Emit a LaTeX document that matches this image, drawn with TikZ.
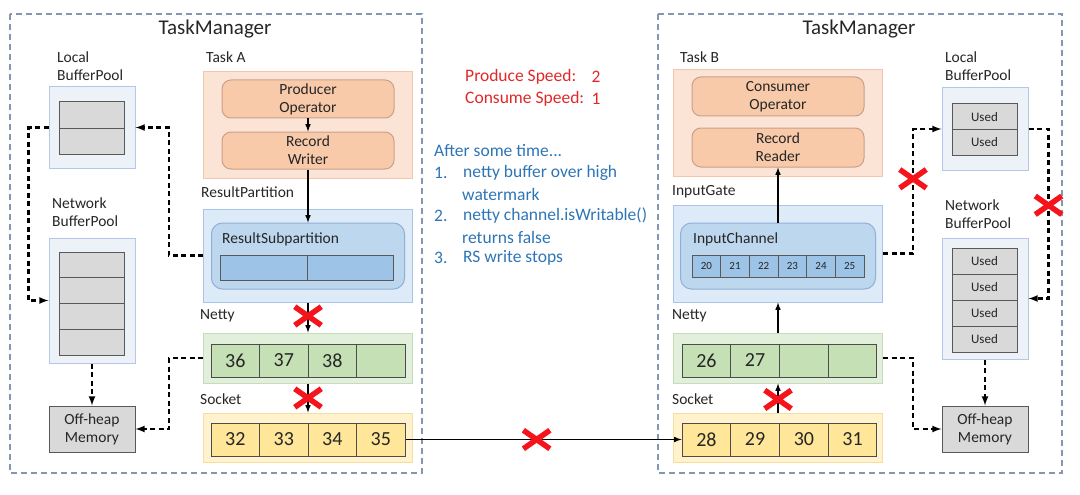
\documentclass[tikz,border=0pt]{standalone}
\usepackage{fontspec}
\setmainfont{Carlito}
\usepackage{tikz}
\usetikzlibrary{arrows,shapes.misc}
\usepackage{xcolor}

\definecolor{tmgray}{HTML}{8497B0}
\definecolor{txt}{HTML}{262626}
\definecolor{poolfill}{HTML}{EDF1F8}
\definecolor{pooldraw}{HTML}{B4C7E7}
\definecolor{grayfill}{HTML}{D9D9D9}
\definecolor{graydraw}{HTML}{595959}
\definecolor{taskfill}{HTML}{FBE4D6}
\definecolor{taskdraw}{HTML}{F2C6AA}
\definecolor{opfill}{HTML}{F8CAAA}
\definecolor{opdraw}{HTML}{C9A08A}
\definecolor{rpfill}{HTML}{DDEAF7}
\definecolor{rpdraw}{HTML}{A9C4E4}
\definecolor{subfill}{HTML}{BDD7EE}
\definecolor{subdraw}{HTML}{8FB0D6}
\definecolor{bluecell}{HTML}{9DC3E6}
\definecolor{nettyfill}{HTML}{E2EFDA}
\definecolor{nettydraw}{HTML}{C5DDB8}
\definecolor{greencell}{HTML}{C5E0B4}
\definecolor{sockfill}{HTML}{FFF2CC}
\definecolor{sockdraw}{HTML}{F5DFA0}
\definecolor{yellowcell}{HTML}{FFE699}
\definecolor{redtxt}{HTML}{E02828}
\definecolor{bluetxt}{HTML}{2E75B6}
\definecolor{crossred}{HTML}{F5141C}

\begin{document}
\begin{tikzpicture}[x=1pt,y=-1pt,
  lbl/.style={anchor=west,inner sep=0,text=txt,font=\fontsize{15.5}{18}\selectfont,align=left},
  title/.style={inner sep=0,text=txt,font=\fontsize{21}{24}\selectfont},
  tm/.style={draw=tmgray,line width=1.5,dash pattern=on 6pt off 4pt},
  pool/.style={draw=pooldraw,fill=poolfill,line width=1,minimum width=86,inner sep=0},
  graycell/.style={draw=graydraw,fill=grayfill,line width=1,minimum width=65,inner sep=0,text=txt,font=\fontsize{13}{15}\selectfont},
  offheap/.style={draw=graydraw,fill=grayfill,line width=1,minimum width=86,minimum height=46,inner sep=0,text=txt,align=center,font=\fontsize{15.5}{18}\selectfont},
  task/.style={draw=taskdraw,fill=taskfill,line width=1,minimum width=209,inner sep=0},
  op/.style={draw=opdraw,fill=opfill,line width=1,rounded corners=9,minimum width=172,inner sep=0,text=txt,align=center,font=\fontsize{15.5}{18}\selectfont},
  part/.style={draw=rpdraw,fill=rpfill,line width=1,minimum width=209,inner sep=0},
  sub/.style={draw=subdraw,fill=subfill,line width=1,rounded corners=11,minimum height=66,inner sep=0},
  bcell/.style={draw=graydraw,fill=bluecell,line width=1,inner sep=0,text=txt},
  netty/.style={draw=nettydraw,fill=nettyfill,line width=1,minimum width=209,minimum height=50,inner sep=0},
  gcell/.style={draw=black!70,fill=greencell,line width=1,minimum height=33,inner sep=0,text=txt,font=\fontsize{20}{22}\selectfont},
  sock/.style={draw=sockdraw,fill=sockfill,line width=1,minimum width=209,minimum height=49,inner sep=0},
  ycell/.style={draw=black!70,fill=yellowcell,line width=1,minimum height=33,inner sep=0,text=txt,font=\fontsize{20}{22}\selectfont},
  arr/.style={draw=black,line width=1.5,-latex},
  dashline/.style={draw=black,line width=2.1,dash pattern=on 5pt off 3.5pt,-latex},
  redx/.style={cross out,solid,draw=crossred,line width=5.5,minimum width=21,minimum height=13,inner sep=0},
  red/.style={anchor=west,inner sep=0,text=redtxt,font=\fontsize{17.5}{20}\selectfont},
  blue/.style={anchor=west,inner sep=0,text=bluetxt,font=\fontsize{17.5}{20}\selectfont}]

\useasboundingbox (0,0) rectangle (1080,495);

% left task manager
\draw[tm] (10,14) rectangle (422,473);
\node[title] (tmAt) at (215,29) {TaskManager};

\node[lbl] (lbpAl) at (57,66) {Local\\BufferPool};
\node[pool,minimum height=81] (lbpA) at (92,127.5) {};
\node[graycell,minimum height=26] (la1) at (91.5,115) {};
\node[graycell,minimum height=26] (la2) at (91.5,141) {};

\node[lbl] (nbpAl) at (52,212) {Network\\BufferPool};
\node[pool,minimum height=125] (nbpA) at (92,300.5) {};
\node[graycell,minimum height=25.75] (na1) at (91.5,265) {};
\node[graycell,minimum height=25.75] (na2) at (91.5,290.75) {};
\node[graycell,minimum height=25.75] (na3) at (91.5,316.5) {};
\node[graycell,minimum height=25.75] (na4) at (91.5,342.25) {};

\node[offheap] (offA) at (92,429) {Off-heap\\Memory};

\node[lbl] (taskAl) at (206,57) {Task A};
\node[task,minimum height=106] (taskA) at (308,125) {};
\node[op,minimum height=38] (prodA) at (308,99) {Producer\\Operator};
\node[op,minimum height=37] (rwA) at (308,150.5) {Record\\Writer};

\node[lbl] (rpAl) at (201,192) {ResultPartition};
\node[part,minimum height=93] (rpA) at (308,255.5) {};
\node[sub,minimum width=193] (rsA) at (308,256) {};
\node[lbl] (rsAl) at (222,239) {ResultSubpartition};
\node[bcell,minimum width=86.5,minimum height=25] (ra1) at (264,267.5) {};
\node[bcell,minimum width=86.5,minimum height=25] (ra2) at (350.5,267.5) {};

\node[lbl] (netAl) at (200,316) {Netty};
\node[netty] (netA) at (308,358) {};
\node[gcell,minimum width=48.5] (a36) at (235.25,360.5) {36};
\node[gcell,minimum width=48.5] (a37) at (283.75,360.5) {37};
\node[gcell,minimum width=48.5] (a38) at (332.25,360.5) {38};
\node[gcell,minimum width=48.5] (a39) at (380.75,360.5) {};

\node[lbl] (sockAl) at (200,399) {Socket};
\node[sock] (sockA) at (308,437.5) {};
\node[ycell,minimum width=48.5] (a32) at (235.25,439.5) {32};
\node[ycell,minimum width=48.5] (a33) at (283.75,439.5) {33};
\node[ycell,minimum width=48.5] (a34) at (332.25,439.5) {34};
\node[ycell,minimum width=48.5] (a35) at (380.75,439.5) {35};

% right task manager
\draw[tm] (658,14) rectangle (1062,473);
\node[title] (tmBt) at (859,29) {TaskManager};

\node[lbl] (taskBl) at (680,57) {Task B};
\node[task,minimum height=106] (taskB) at (778,123) {};
\node[op,minimum height=39] (consB) at (778,96.5) {Consumer\\Operator};
\node[op,minimum height=39] (rrB) at (778,147.5) {Record\\Reader};

\node[lbl] (igBl) at (672,192) {InputGate};
\node[part,minimum height=97] (igB) at (778,253.5) {};
\node[sub,minimum width=195] (icB) at (778,256) {};
\node[lbl] (icBl) at (693,239) {InputChannel};
\node[bcell,minimum width=28.67,minimum height=22,font=\fontsize{11}{13}\selectfont] (b20) at (706.33,266) {20};
\node[bcell,minimum width=28.67,minimum height=22,font=\fontsize{11}{13}\selectfont] (b21) at (735,266) {21};
\node[bcell,minimum width=28.67,minimum height=22,font=\fontsize{11}{13}\selectfont] (b22) at (763.67,266) {22};
\node[bcell,minimum width=28.67,minimum height=22,font=\fontsize{11}{13}\selectfont] (b23) at (792.33,266) {23};
\node[bcell,minimum width=28.67,minimum height=22,font=\fontsize{11}{13}\selectfont] (b24) at (821,266) {24};
\node[bcell,minimum width=28.67,minimum height=22,font=\fontsize{11}{13}\selectfont] (b25) at (849.67,266) {25};

\node[lbl] (netBl) at (672,316) {Netty};
\node[netty] (netB) at (778,358) {};
\node[gcell,minimum width=48.75] (b26) at (706.4,360.5) {26};
\node[gcell,minimum width=48.75] (b27) at (755.1,360.5) {27};
\node[gcell,minimum width=48.75] (b2x) at (803.9,360.5) {};
\node[gcell,minimum width=48.75] (b2y) at (852.6,360.5) {};

\node[lbl] (sockBl) at (672,399) {Socket};
\node[sock] (sockB) at (778,437.5) {};
\node[ycell,minimum width=48.75] (b28) at (706.4,439.5) {28};
\node[ycell,minimum width=48.75] (b29) at (755.1,439.5) {29};
\node[ycell,minimum width=48.75] (b30) at (803.9,439.5) {30};
\node[ycell,minimum width=48.75] (b31) at (852.6,439.5) {31};

\node[lbl] (lbpBl) at (945,66) {Local\\BufferPool};
\node[pool,minimum height=82] (lbpB) at (985,129) {};
\node[graycell,minimum height=25.5] (lb1) at (984.5,116.75) {Used};
\node[graycell,minimum height=25.5] (lb2) at (984.5,142.25) {Used};

\node[lbl] (nbpBl) at (945,214) {Network\\BufferPool};
\node[pool,minimum height=121] (nbpB) at (985,298.5) {};
\node[graycell,minimum height=26] (nb1) at (984.5,261) {Used};
\node[graycell,minimum height=26] (nb2) at (984.5,287) {Used};
\node[graycell,minimum height=26] (nb3) at (984.5,313) {Used};
\node[graycell,minimum height=26] (nb4) at (984.5,339) {Used};

\node[offheap] (offB) at (985,429) {Off-heap\\Memory};

% middle notes
\node[red] (ps) at (465,77) {Produce Speed:};
\node[text=redtxt,inner sep=0,font=\fontsize{17.5}{20}\selectfont] (psv) at (596,77) {2};
\node[red] (cs) at (465,99) {Consume Speed:};
\node[text=redtxt,inner sep=0,font=\fontsize{17.5}{20}\selectfont] (csv) at (596,99) {1};

\node[blue] (n0) at (434,151) {After some time...};
\node[blue] (n1) at (434,173) {1.};
\node[blue] (n1t) at (463,173) {netty buffer over high};
\node[blue] (n1u) at (462,194) {watermark};
\node[blue] (n2) at (434,216) {2.};
\node[blue] (n2t) at (463,216) {netty channel.isWritable()};
\node[blue] (n2u) at (462,237) {returns false};
\node[blue] (n3) at (434,258) {3.};
\node[blue] (n3t) at (463,258) {RS write stops};

% data path
\draw[arr] (prodA.south) -- (rwA.north);
\draw[arr] (rwA.south) -- (rsA.north);
\draw[arr] (rpA.south) -- node[pos=0.45,redx]{} (netA.north);
\draw[arr] (netA.south) -- node[pos=0.5,redx]{} (sockA.north);
\draw[arr] (a35.east) -- node[pos=0.475,redx]{} (b28.west);
\draw[arr] (sockB.north) -- node[pos=0.45,redx]{} (netB.south);
\draw[arr] (netB.north) -- (igB.south);
\draw[arr] (icB.north) -- (rrB.south);

% buffer requests
\draw[dashline] (lbpA.west) -- ++(-20,0) |- (nbpA.west);
\draw[dashline] (rpA.west) -- ++(-34,0) |- (lbpA.east);
\draw[dashline] (nbpA.south) -- (offA.north);
\draw[dashline] (netA.west) -- ++(-34,0) |- (offA.east);

\draw[dashline] (igB.east) -- ++(30,0) |- node[pos=0.3,redx]{} (lbpB.west);
\draw[dashline] (lbpB.east) -- ++(20,0) |- node[pos=0.225,redx]{} (nbpB.east);
\draw[dashline] (nbpB.south) -- (offB.north);
\draw[dashline] (netB.east) -- ++(30,0) |- (offB.west);
\end{tikzpicture}
\end{document}
